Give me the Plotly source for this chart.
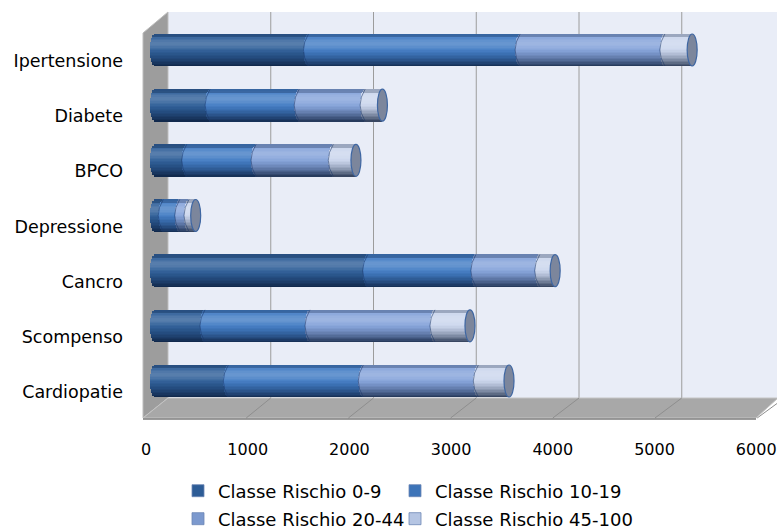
import math
import plotly.graph_objects as go

# ---- data -------------------------------------------------------------
categories = ["Cardiopatie", "Scompenso", "Cancro", "Depressione",
              "BPCO", "Diabete", "Ipertensione"]
series_names = ["Classe Rischio 0-9", "Classe Rischio 10-19",
                "Classe Rischio 20-44", "Classe Rischio 45-100"]
rischio_0_9 = [712, 485, 2065, 80, 308, 535, 1490]
rischio_10_19 = [1310, 1020, 1050, 160, 673, 865, 2055]
rischio_20_44 = [1117, 1213, 620, 90, 750, 640, 1405]
rischio_45_100 = [298, 340, 150, 65, 220, 168, 265]
series_values = [rischio_0_9, rischio_10_19, rischio_20_44, rischio_45_100]
x_ticks = [0, 1000, 2000, 3000, 4000, 5000, 6000]

# ---- styling ----------------------------------------------------------
base_colors = [(46, 94, 152), (66, 124, 196), (133, 163, 218), (203, 214, 237)]
legend_colors = ["#2D5C96", "#3D74B8", "#7C99CE", "#B5C5E3"]
DARK = (8, 24, 52)
FONT = "DejaVu Sans"

W, H = 777, 530
PL, PR, PT, PB = 143, 777, 12, 418          # plot area in pixels
ZERO_PX, PX_PER_UNIT = 155, 0.103            # bar depth: pixel of 0, px per unit
FRONT_ZERO_PX, FRONT_PX_PER_UNIT = 146, 0.1017   # front edge of the floor (tick labels)
BACK_ZERO_PX, BACK_PX_PER_UNIT = 168, 0.10275    # back wall (gridlines)
BAR_ROW_PX = 55.17                           # pixels between categories
FIRST_ROW_PX = 381                           # centre of the lowest bar

x_range = [(PL - ZERO_PX) / PX_PER_UNIT, (PR - ZERO_PX) / PX_PER_UNIT]
x2_range = [(PL - FRONT_ZERO_PX) / FRONT_PX_PER_UNIT, (PR - FRONT_ZERO_PX) / FRONT_PX_PER_UNIT]
y_range = [-(PB - FIRST_ROW_PX) / BAR_ROW_PX,
           -(PB - FIRST_ROW_PX) / BAR_ROW_PX + (PB - PT) / BAR_ROW_PX]


def paper_x(px):
    return (px - PL) / (PR - PL)


def paper_y(py):
    return (PB - py) / (PB - PT)


def rgb_str(c):
    return "rgb(%d,%d,%d)" % tuple(int(round(v)) for v in c)


def shade(rgb, t):
    """Cylinder shading: t = 0 at the top edge, 1 at the bottom edge."""
    hl = 0.20 * math.exp(-((t - 0.28) / 0.17) ** 2)
    dk = 0.0
    if t > 0.45:
        dk = 0.80 * ((t - 0.45) / 0.55) ** 1.5
    if t < 0.07:
        dk = 0.25
    c = [v + (255 - v) * hl for v in rgb]
    c = [v * (1 - dk) + d * dk for v, d in zip(c, DARK)]
    return rgb_str(c)


positions = list(range(len(categories)))
half_h = 16 / BAR_ROW_PX                     # half bar thickness (axis units)
bar_h = 2 * half_h
rx = 5 / PX_PER_UNIT                          # horizontal radius of the end ellipses

starts = []
running = [0.0] * len(categories)
for vals in series_values:
    starts.append(list(running))
    running = [r + v for r, v in zip(running, vals)]
totals = running

fig = go.Figure()

# shaded cylinder segments, built from thin horizontal strips
N = 22
for s, (name, vals) in enumerate(zip(series_names, series_values)):
    for k in range(N):
        y_lo = -half_h + k * bar_h / N
        yc = y_lo + bar_h / (2 * N)
        d = min(1.0, abs(yc) / half_h)
        ext = rx * math.sqrt(max(0.0, 1 - d * d))
        t = (half_h - yc) / bar_h
        fig.add_trace(go.Bar(
            orientation="h",
            y=positions,
            x=[v + ext for v in vals],
            base=[b - ext for b in starts[s]],
            width=bar_h / N + 0.004,
            offset=y_lo,
            marker=dict(color=shade(base_colors[s], t), line=dict(width=0)),
            name=name,
            legendgroup=name,
            showlegend=False,
            hoverinfo="skip",
        ))

# legend entries, one small legend per entry (2 x 2 grid)
legend_ids = ["legend", "legend2", "legend3", "legend4"]
for s, name in enumerate(series_names):
    fig.add_trace(go.Bar(
        orientation="h", x=[None], y=[None],
        marker=dict(color=legend_colors[s], line=dict(color="#6C86B4", width=0.8)),
        name=name, legendgroup=name, showlegend=True,
        legend=legend_ids[s],
        hoverinfo="skip",
    ))

# axis carrying the tick labels along the front edge of the floor
fig.add_trace(go.Scatter(x=[None], y=[None], xaxis="x2", yaxis="y",
                         showlegend=False, hoverinfo="skip"))

shapes = []
# back wall
shapes.append(dict(type="rect", xref="paper", yref="paper", layer="below",
                   x0=paper_x(168), x1=paper_x(PR + 5), y0=paper_y(398), y1=paper_y(PT),
                   fillcolor="#E9EDF7", line=dict(width=0)))
# gridlines on the back wall
for v in x_ticks[1:]:
    gx = BACK_ZERO_PX + v * BACK_PX_PER_UNIT
    shapes.append(dict(type="line", xref="paper", yref="paper", layer="below",
                       x0=paper_x(gx), x1=paper_x(gx), y0=paper_y(398), y1=paper_y(PT),
                       line=dict(color="#9C9C9C", width=1)))
# left wall
shapes.append(dict(type="path", xref="paper", yref="paper", layer="below",
                   path="M %f,%f L %f,%f L %f,%f L %f,%f Z" % (
                       paper_x(143), paper_y(33), paper_x(168), paper_y(12),
                       paper_x(168), paper_y(398), paper_x(143), paper_y(418)),
                   fillcolor="#9D9D9D", line=dict(color="#BDBDBD", width=1)))
# floor
shapes.append(dict(type="path", xref="paper", yref="paper", layer="below",
                   path="M %f,%f L %f,%f L %f,%f L %f,%f Z" % (
                       paper_x(143), paper_y(418), paper_x(168), paper_y(398),
                       paper_x(778), paper_y(398), paper_x(756), paper_y(418)),
                   fillcolor="#A8A8A8", line=dict(color="#C4C4C4", width=1)))
for v in x_ticks[1:]:
    bx = BACK_ZERO_PX + v * BACK_PX_PER_UNIT
    fx = 144 + v * 0.1022
    shapes.append(dict(type="line", xref="paper", yref="paper", layer="below",
                       x0=paper_x(bx), x1=paper_x(fx), y0=paper_y(398), y1=paper_y(418),
                       line=dict(color="#8E8E8E", width=1)))
shapes.append(dict(type="line", xref="paper", yref="paper", layer="below",
                   x0=paper_x(143), x1=paper_x(756), y0=paper_y(419), y1=paper_y(419),
                   line=dict(color="#7A7A7A", width=1.5)))

# seams between segments
for s in range(1, len(series_values)):
    for i, p in enumerate(positions):
        b = starts[s][i]
        shapes.append(dict(type="path", xref="x", yref="y", layer="above",
                           path="M %f,%f Q %f,%f %f,%f" % (
                               b, p + half_h, b - 2 * rx, p, b, p - half_h),
                           line=dict(color="rgba(25,55,105,0.55)", width=1)))
# end faces
for i, p in enumerate(positions):
    shapes.append(dict(type="circle", xref="x", yref="y", layer="above",
                       x0=totals[i] - rx, x1=totals[i] + rx,
                       y0=p - half_h, y1=p + half_h,
                       fillcolor="#7C869C", line=dict(color="#3E66A2", width=1.2)))

legend_common = dict(orientation="h", xanchor="left", yanchor="middle",
                     font=dict(family=FONT, size=18, color="#000000"),
                     bgcolor="rgba(0,0,0,0)",
                     itemclick=False, itemdoubleclick=False)
legend_pos = [(178, 491), (395, 491), (178, 519), (395, 519)]

fig.update_layout(
    width=W, height=H,
    margin=dict(l=PL, r=W - PR, t=PT, b=H - PB, pad=0, autoexpand=False),
    paper_bgcolor="white",
    plot_bgcolor="rgba(0,0,0,0)",
    barmode="overlay",
    bargap=0,
    shapes=shapes,
    font=dict(family=FONT, size=17, color="#000000"),
    showlegend=True,
    xaxis=dict(range=x_range, showticklabels=False,
               showgrid=False, zeroline=False, showline=False, ticks="",
               automargin=False, fixedrange=True),
    xaxis2=dict(range=x2_range, overlaying="x", anchor="y", side="bottom",
                tickvals=x_ticks, ticktext=[str(v) for v in x_ticks],
                showgrid=False, zeroline=False, showline=False, ticks="",
                automargin=False, ticklabelstandoff=20, ticklabeloverflow="allow",
                tickfont=dict(family=FONT, size=16, color="#000000"), fixedrange=True),
    yaxis=dict(range=y_range, tickvals=positions, ticktext=categories,
               showgrid=False, zeroline=False, showline=False, ticks="",
               automargin=False,
               ticklabelshift=11, ticklabelstandoff=19,
               tickfont=dict(family=FONT, size=17.5, color="#000000"), fixedrange=True),
)
for lid, (lx, ly) in zip(legend_ids, legend_pos):
    fig.update_layout({lid: dict(x=paper_x(lx), y=paper_y(ly), **legend_common)})

fig.write_html("out.html")
